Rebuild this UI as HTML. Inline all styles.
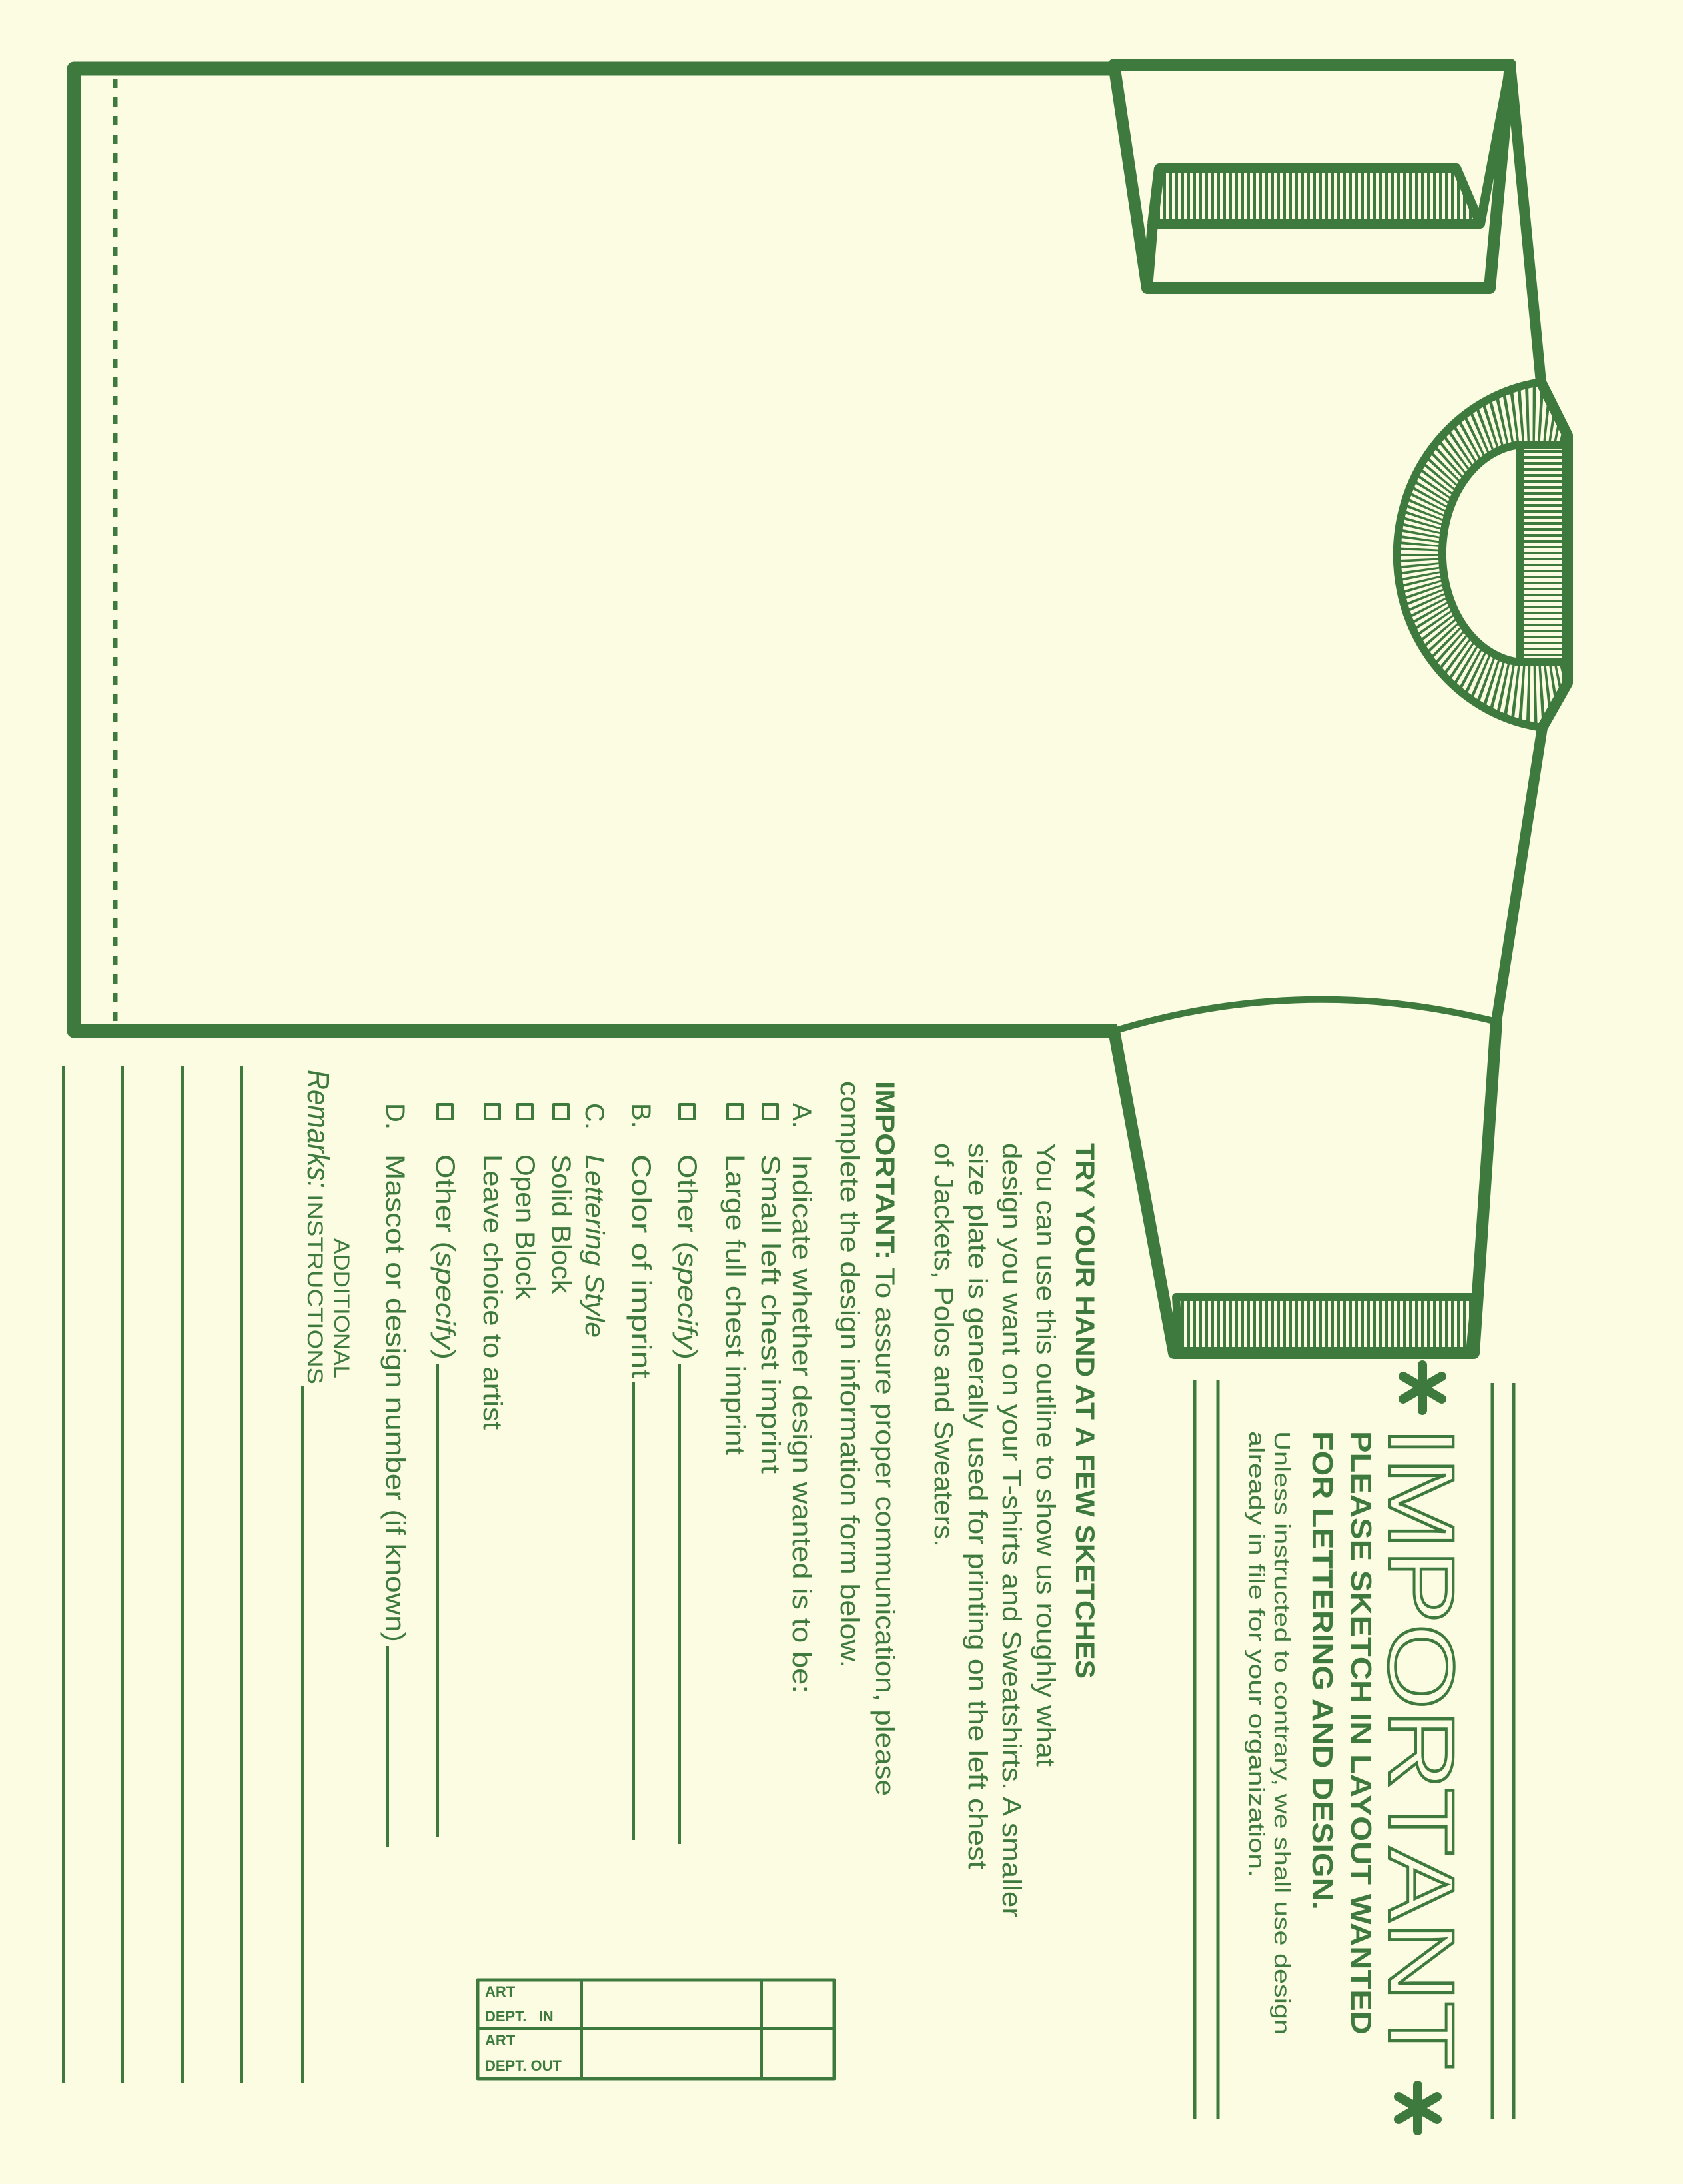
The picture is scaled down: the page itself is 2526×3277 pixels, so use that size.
<!DOCTYPE html>
<html><head><meta charset="utf-8"><style>
html,body{margin:0;padding:0;background:#fcfce3;}
svg{display:block}
text{font-family:"Liberation Sans",sans-serif;fill:#3e7a3e}
</style></head><body>
<svg width="2526" height="3277" viewBox="0 0 2526 3277" xmlns="http://www.w3.org/2000/svg">
<defs>
<pattern id="vh" width="9" height="20" patternUnits="userSpaceOnUse"><rect x="0" y="0" width="4" height="20" fill="#3e7a3e"/></pattern>
<pattern id="hh" width="20" height="9" patternUnits="userSpaceOnUse"><rect x="0" y="0" width="20" height="4" fill="#3e7a3e"/></pattern>
<clipPath id="ring"><path clip-rule="evenodd" d="M2313,573 L2353,653 L2353,1025 L2315,1092 A252,262 0 0 1 2313,573 Z M2282,667 A127,164 0 0 0 2282,994 L2353,994 L2353,667 Z"/></clipPath>
</defs>
<rect width="2526" height="3277" fill="#fcfce3"/>
<g fill="none" stroke="#3e7a3e" stroke-linejoin="round">
<!-- body -->
<path d="M1675,103 L111,103 L111,1547 L1676,1547" stroke-width="21"/>
<line x1="173" y1="118" x2="173" y2="1535" stroke-width="7" stroke-dasharray="14 14"/>
<!-- top sleeve -->
<path d="M1672,97 L2267,97 L2236,432 L1722,432 Z" stroke-width="18"/>
<polygon points="1740,252 2186,252 2222,336 1730,336" fill="url(#vh)" stroke-width="14"/>
<path d="M2267,97 L2222,336" stroke-width="14"/>
<path d="M1730,336 L1722,432" stroke-width="16"/>
<path d="M1740,252 L1730,336" stroke-width="16"/>
<!-- shoulders -->
<path d="M2267,97 L2313,573 L2353,653 L2353,1025 L2315,1092 L2246,1533" stroke-width="16"/>
<!-- collar -->
<g clip-path="url(#ring)"><circle cx="2300" cy="832" r="150" stroke-width="300" stroke-dasharray="3 4"/></g>
<path d="M2313,573 A252,262 0 0 0 2315,1092" stroke-width="12"/>
<path d="M2282,667 A127,164 0 0 0 2282,994" stroke-width="12"/>
<rect x="2282" y="667" width="71" height="327" fill="url(#hh)" stroke-width="12"/>
<!-- bottom sleeve -->
<path d="M1672,1547 Q1956,1460 2246,1533" stroke-width="10"/>
<path d="M1672,1547 L1762,2030 L2212,2030 L2246,1533" stroke-width="18"/>
<polygon points="1765,1946 2214,1946 2206,2030 1770,2030" fill="url(#vh)" stroke-width="12"/>
<!-- right lines -->
<g stroke-width="5">
<line x1="2240" y1="2075" x2="2240" y2="3180"/><line x1="2272" y1="2075" x2="2272" y2="3180"/>
<line x1="1793" y1="2070" x2="1793" y2="3180"/><line x1="1828" y1="2070" x2="1828" y2="3180"/>
</g>
<!-- asterisks -->
<g stroke-width="14" stroke-linecap="round">
<line x1="2135" y1="2048" x2="2135" y2="2116"/><line x1="2106" y1="2065" x2="2164" y2="2099"/><line x1="2106" y1="2099" x2="2164" y2="2065"/>
<line x1="2128" y1="3129" x2="2128" y2="3197"/><line x1="2099" y1="3146" x2="2157" y2="3180"/><line x1="2099" y1="3180" x2="2157" y2="3146"/>
</g>
<!-- remarks lines -->
<g stroke-width="4">
<line x1="95" y1="1600" x2="95" y2="3125"/><line x1="184" y1="1600" x2="184" y2="3125"/>
<line x1="274" y1="1600" x2="274" y2="3125"/><line x1="362" y1="1600" x2="362" y2="3125"/>
<line x1="454" y1="2079" x2="454" y2="3125"/>
<line x1="1020" y1="2046" x2="1020" y2="2767"/><line x1="951" y1="2073" x2="951" y2="2761"/>
<line x1="657" y1="2046" x2="657" y2="2757"/><line x1="582" y1="2470" x2="582" y2="2772"/>
</g>
<!-- checkboxes -->
<g stroke-width="4">
<rect x="1145" y="1657" width="22" height="22"/><rect x="1092" y="1657" width="22" height="22"/>
<rect x="1020" y="1657" width="22" height="22"/><rect x="831" y="1657" width="22" height="22"/>
<rect x="777" y="1657" width="22" height="22"/><rect x="728" y="1657" width="22" height="22"/>
<rect x="657" y="1657" width="22" height="22"/>
</g>
<!-- art box -->
<rect x="717" y="2971" width="535" height="148" stroke-width="5"/>
<line x1="717" y1="3044" x2="1252" y2="3044" stroke-width="4"/>
<line x1="873" y1="2971" x2="873" y2="3119" stroke-width="4"/>
<line x1="1143" y1="2971" x2="1143" y2="3119" stroke-width="4"/>
</g>
<!-- art box text -->
<g font-weight="bold" font-size="22">
<text x="728" y="2996">ART</text><text x="728" y="3033">DEPT.&#160;&#160;&#160;IN</text>
<text x="728" y="3069">ART</text><text x="728" y="3107">DEPT. OUT</text>
</g>
<!-- rotated text -->
<text transform="translate(2085,2140) rotate(90)" font-size="140" style="fill:none;stroke:#3e7a3e;stroke-width:4" textLength="965" lengthAdjust="spacingAndGlyphs">IMPORTANT</text>
<text transform="translate(2028,2147) rotate(90)" font-size="44" font-weight="bold" textLength="906" lengthAdjust="spacingAndGlyphs">PLEASE SKETCH IN LAYOUT WANTED</text>
<text transform="translate(1970,2147) rotate(90)" font-size="44" font-weight="bold" textLength="719" lengthAdjust="spacingAndGlyphs">FOR LETTERING AND DESIGN.</text>
<text transform="translate(1913,2147) rotate(90)" font-size="33" textLength="906" lengthAdjust="spacingAndGlyphs">Unless instructed to contrary, we shall use design</text>
<text transform="translate(1875,2147) rotate(90)" font-size="33" textLength="670" lengthAdjust="spacingAndGlyphs">already in file for your organization.</text>

<text transform="translate(1615,1715) rotate(90)" font-size="40" font-weight="bold" textLength="804" lengthAdjust="spacingAndGlyphs">TRY YOUR HAND AT A FEW SKETCHES</text>
<text transform="translate(1556,1715) rotate(90)" font-size="40" textLength="936" lengthAdjust="spacingAndGlyphs">You can use this outline to show us roughly what</text>
<text transform="translate(1505,1715) rotate(90)" font-size="40" textLength="1162" lengthAdjust="spacingAndGlyphs">design you want on your T-shirts and Sweatshirts. A smaller</text>
<text transform="translate(1454,1715) rotate(90)" font-size="40" textLength="1090" lengthAdjust="spacingAndGlyphs">size plate is generally used for printing on the left chest</text>
<text transform="translate(1403,1715) rotate(90)" font-size="40" textLength="606" lengthAdjust="spacingAndGlyphs">of Jackets, Polos and Sweaters.</text>
<text transform="translate(1315,1622) rotate(90)" font-size="40" textLength="1073" lengthAdjust="spacingAndGlyphs"><tspan font-weight="bold">IMPORTANT:</tspan> To assure proper communication, please</text>
<text transform="translate(1262,1622) rotate(90)" font-size="40" textLength="881" lengthAdjust="spacingAndGlyphs">complete the design information form below.</text>

<g font-size="40">
<text transform="translate(1190,1655) rotate(90)">A.</text>
<text transform="translate(1190,1732) rotate(90)" textLength="809" lengthAdjust="spacingAndGlyphs">Indicate whether design wanted is to be:</text>
<text transform="translate(1143,1732) rotate(90)" textLength="479" lengthAdjust="spacingAndGlyphs">Small left chest imprint</text>
<text transform="translate(1090,1732) rotate(90)" textLength="451" lengthAdjust="spacingAndGlyphs">Large full chest imprint</text>
<text transform="translate(1018,1732) rotate(90)" textLength="308" lengthAdjust="spacingAndGlyphs">Other (<tspan font-style="italic">specify</tspan>)</text>
<text transform="translate(949,1655) rotate(90)">B.</text>
<text transform="translate(949,1732) rotate(90)" textLength="336" lengthAdjust="spacingAndGlyphs">Color of imprint</text>
<text transform="translate(879,1655) rotate(90)">C.</text>
<text transform="translate(879,1732) rotate(90)" font-style="italic" textLength="275" lengthAdjust="spacingAndGlyphs">Lettering Style</text>
<text transform="translate(829,1732) rotate(90)" textLength="209" lengthAdjust="spacingAndGlyphs">Solid Block</text>
<text transform="translate(775,1732) rotate(90)" textLength="218" lengthAdjust="spacingAndGlyphs">Open Block</text>
<text transform="translate(726,1732) rotate(90)" textLength="413" lengthAdjust="spacingAndGlyphs">Leave choice to artist</text>
<text transform="translate(655,1732) rotate(90)" textLength="308" lengthAdjust="spacingAndGlyphs">Other (<tspan font-style="italic">specify</tspan>)</text>
<text transform="translate(580,1655) rotate(90)">D.</text>
<text transform="translate(580,1732) rotate(90)" textLength="732" lengthAdjust="spacingAndGlyphs">Mascot or design number (if known)</text>
</g>
<text transform="translate(502,1858) rotate(90)" font-size="32" textLength="210" lengthAdjust="spacingAndGlyphs">ADDITIONAL</text>
<text transform="translate(462,1605) rotate(90)" font-size="46" font-style="italic" textLength="178" lengthAdjust="spacingAndGlyphs">Remarks:</text>
<text transform="translate(462,1792) rotate(90)" font-size="32" textLength="285" lengthAdjust="spacingAndGlyphs">INSTRUCTIONS</text>
</svg>
</body></html>
